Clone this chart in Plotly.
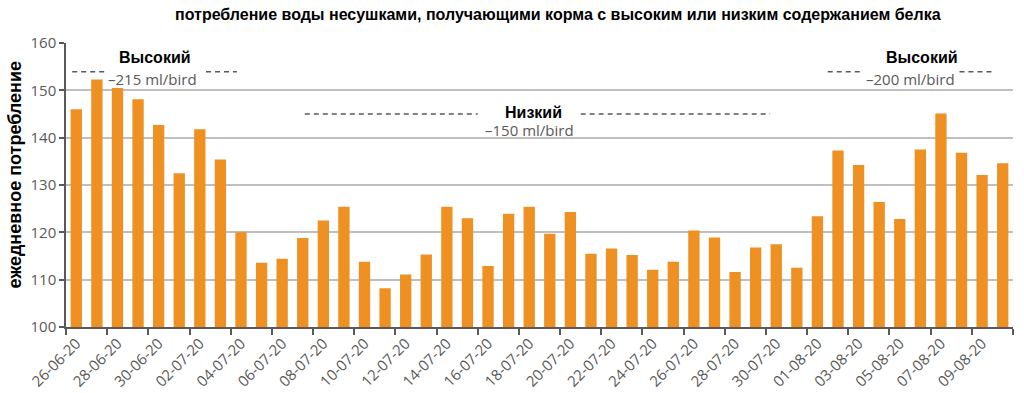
import plotly.graph_objects as go

dates = ["26-06-20","27-06-20","28-06-20","29-06-20","30-06-20",
         "01-07-20","02-07-20","03-07-20","04-07-20","05-07-20","06-07-20","07-07-20",
         "08-07-20","09-07-20","10-07-20","11-07-20","12-07-20","13-07-20","14-07-20",
         "15-07-20","16-07-20","17-07-20","18-07-20","19-07-20","20-07-20","21-07-20",
         "22-07-20","23-07-20","24-07-20","25-07-20","26-07-20","27-07-20","28-07-20",
         "29-07-20","30-07-20","31-07-20","01-08-20","02-08-20","03-08-20","04-08-20",
         "05-08-20","06-08-20","07-08-20","08-08-20","09-08-20","10-08-20"]
values = [146.0, 152.3, 150.5, 148.1, 142.7, 132.5, 141.8, 135.4, 120.0, 113.6,
          114.4, 118.8, 122.5, 125.4, 113.8, 108.2, 111.1, 115.3, 125.4, 123.0,
          112.9, 123.9, 125.4, 119.7, 124.3, 115.5, 116.6, 115.2, 112.1, 113.8,
          120.4, 118.9, 111.6, 116.8, 117.5, 112.5, 123.4, 137.3, 134.2, 126.4,
          122.8, 137.5, 145.1, 136.8, 132.1, 134.6]

title = "потребление воды несушками, получающими корма с высоким или низким содержанием белка"
ytitle = "ежедневное потребление"

idx = list(range(len(values)))
tick_idx = idx[::2]
tick_text = [dates[i] for i in tick_idx]

fig = go.Figure()
fig.add_trace(go.Bar(x=idx, y=values, marker_color="#EE9122", marker_line_width=0,
                     hoverinfo="x+y"))

fig.update_layout(
    width=1024, height=393,
    margin=dict(l=66, r=11, t=43, b=66),
    plot_bgcolor="white", paper_bgcolor="white",
    bargap=0.45, showlegend=False,
    font=dict(family="Open Sans", color="#595959"),
)
fig.update_xaxes(
    range=[-0.5, len(values) - 0.5], automargin=False,
    tickmode="array", tickvals=tick_idx, ticktext=tick_text,
    tickangle=-45, ticks="", tickfont=dict(size=15, color="#595959", family="Open Sans"),
    showline=True, linecolor="#595959", linewidth=1.5, showgrid=False, zeroline=False,
    minor=dict(tick0=-0.5, dtick=2, ticks="outside", ticklen=6, tickcolor="#595959",
               tickwidth=1.5, showgrid=False),
)
fig.update_yaxes(
    range=[100, 160], dtick=10, tick0=100, automargin=False,
    showgrid=True, gridcolor="#BFBFBF", gridwidth=1.5,
    showline=True, linecolor="#595959", linewidth=1.5,
    ticks="outside", ticklen=5, tickcolor="#595959", tickwidth=1.5,
    tickfont=dict(size=15, color="#595959", family="Open Sans"),
    zeroline=False,
)

# chart title
fig.add_annotation(text="<b>" + title + "</b>", xref="paper", yref="paper",
                   x=0.5195, y=1.0986, xanchor="center", yanchor="middle",
                   showarrow=False, font=dict(size=16, color="black", family="Liberation Sans"))
# y-axis title
fig.add_annotation(text="<b>" + ytitle + "</b>", xref="paper", yref="paper",
                   x=-0.0535, y=0.535, xanchor="center", yanchor="middle", textangle=-90,
                   showarrow=False, font=dict(size=18, color="black", family="Liberation Sans"))

def label(x, y, text, bold, size, color, family):
    fig.add_annotation(x=x, y=y, text=("<b>%s</b>" % text) if bold else text,
                       showarrow=False, xanchor="center", yanchor="middle",
                       font=dict(size=size, color=color, family=family))

def dash(x0, x1, y):
    fig.add_shape(type="line", x0=x0, x1=x1, y0=y, y1=y, xref="x", yref="y",
                  line=dict(color="#595959", width=1.5, dash="5px,4px"))

# left high-protein phase
dash(-0.2, 1.4, 153.9); dash(6.3, 7.8, 153.9)
label(3.8, 157.0, "Высокий", True, 16, "black", "Liberation Sans")
label(3.7, 152.4, "–215 ml/bird", False, 15, "#595959", "Open Sans")

# low-protein phase
dash(11.1, 19.5, 145.0); dash(24.5, 33.7, 145.0)
label(22.2, 145.4, "Низкий", True, 16, "black", "Liberation Sans")
label(22.0, 141.6, "–150 ml/bird", False, 15, "#595959", "Open Sans")

# right high-protein phase
dash(36.5, 38.2, 153.9); dash(42.9, 44.6, 153.9)
label(41.1, 157.0, "Высокий", True, 16, "black", "Liberation Sans")
label(40.5, 152.4, "–200 ml/bird", False, 15, "#595959", "Open Sans")

fig.write_html("out.html", config={"displayModeBar": False},
               post_script="document.body.style.margin='0';document.body.style.overflow='hidden';")
